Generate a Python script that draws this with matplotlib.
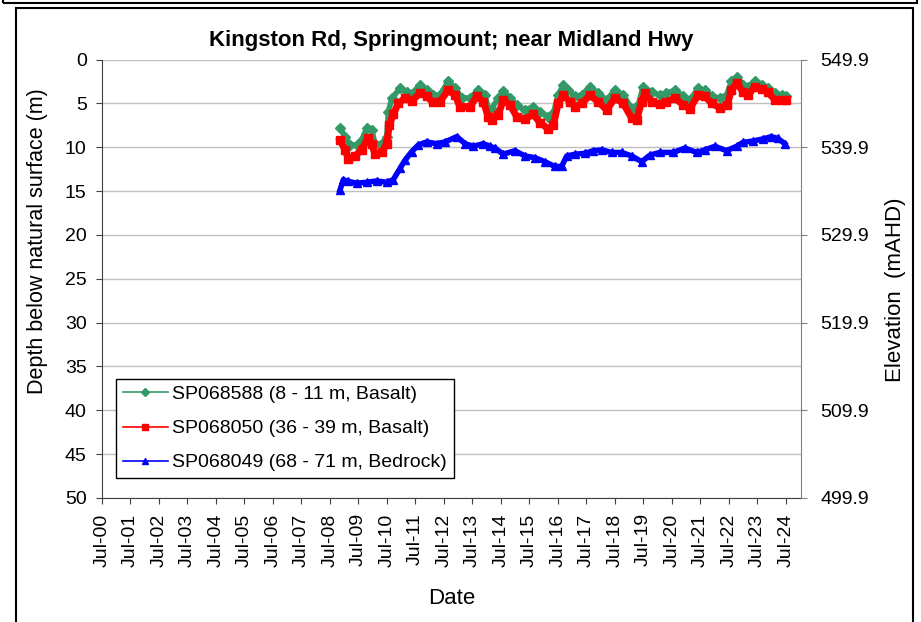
import numpy as np
import pandas as pd
import matplotlib
matplotlib.use("Agg")
import matplotlib.pyplot as plt
import matplotlib.dates as mdates
from matplotlib.patches import Rectangle
from matplotlib.lines import Line2D

plt.rcParams['font.family'] = ['Liberation Sans', 'DejaVu Sans']

# bore readings (decimal year, depth below surface in m)
yr_588 = [2008.85, 2009.03, 2009.20, 2009.44, 2009.61, 2009.79, 2009.96, 2010.08, 2010.31, 2010.49,
          2010.55, 2010.67, 2010.96, 2011.19, 2011.37, 2011.66, 2011.89, 2012.12, 2012.36, 2012.65,
          2012.89, 2013.12, 2013.41, 2013.70, 2013.94, 2014.05, 2014.17, 2014.41, 2014.58, 2014.82,
          2015.05, 2015.34, 2015.63, 2015.87, 2016.16, 2016.34, 2016.51, 2016.69, 2016.86, 2017.10,
          2017.33, 2017.62, 2017.91, 2018.21, 2018.50, 2018.79, 2019.09, 2019.32, 2019.49, 2019.79,
          2020.08, 2020.31, 2020.61, 2020.90, 2021.13, 2021.42, 2021.66, 2021.89, 2022.18, 2022.42,
          2022.59, 2022.77, 2023.00, 2023.18, 2023.41, 2023.65, 2023.88, 2024.11, 2024.35, 2024.52]
d_588 = [7.8, 8.8, 9.75, 9.75, 9.2, 7.8, 8.0, 9.6, 9.6, 8.8,
         5.95, 4.4, 3.3, 3.7, 3.9, 2.9, 3.5, 4.1, 4.05, 2.5,
         3.3, 4.35, 4.4, 3.5, 4.05, 5.6, 5.6, 4.4, 3.6, 4.4,
         5.2, 5.75, 5.4, 5.95, 6.5, 6.1, 4.05, 2.9, 3.5, 4.2,
         4.05, 3.1, 3.85, 4.6, 3.5, 4.05, 5.6, 5.2, 3.1, 3.7,
         4.05, 3.85, 3.5, 4.2, 4.6, 3.3, 3.5, 4.2, 4.4, 4.05,
         2.5, 2.0, 2.9, 3.1, 2.45, 2.9, 3.3, 3.85, 4.05, 4.2]

yr_050 = [2008.85, 2009.03, 2009.14, 2009.38, 2009.61, 2009.84, 2009.96, 2010.08, 2010.31, 2010.49,
          2010.58, 2010.72, 2010.90, 2011.13, 2011.37, 2011.66, 2011.89, 2012.12, 2012.36, 2012.65,
          2012.89, 2013.06, 2013.41, 2013.65, 2013.88, 2014.05, 2014.17, 2014.41, 2014.58, 2014.82,
          2015.05, 2015.34, 2015.63, 2015.87, 2016.16, 2016.34, 2016.51, 2016.69, 2016.92, 2017.10,
          2017.33, 2017.62, 2017.91, 2018.21, 2018.50, 2018.79, 2019.09, 2019.26, 2019.44, 2019.55,
          2019.79, 2020.08, 2020.31, 2020.61, 2020.90, 2021.13, 2021.42, 2021.66, 2021.89, 2022.18,
          2022.44, 2022.59, 2022.77, 2023.00, 2023.18, 2023.41, 2023.65, 2023.88, 2024.11, 2024.35,
          2024.52]
d_050 = [9.2, 10.3, 11.3, 11.0, 10.3, 8.9, 9.6, 10.8, 10.6, 9.6,
         7.5, 6.25, 5.0, 4.4, 4.7, 3.85, 4.2, 4.9, 4.8, 3.5,
         4.05, 5.4, 5.4, 4.2, 4.8, 6.5, 6.9, 6.3, 4.6, 5.2,
         6.5, 6.8, 6.25, 7.2, 7.9, 7.5, 5.0, 4.1, 4.8, 5.4,
         5.0, 4.1, 4.8, 5.75, 4.4, 5.0, 6.7, 6.9, 4.8, 3.85,
         4.8, 5.1, 4.8, 4.4, 5.2, 5.6, 4.05, 4.2, 5.0, 5.5,
         5.2, 3.5, 2.7, 3.7, 4.05, 3.1, 3.35, 3.75, 4.6, 4.6,
         4.6]

yr_049 = [2008.85, 2008.97, 2009.14, 2009.44, 2009.79, 2010.14, 2010.49, 2010.72, 2010.96, 2011.13,
          2011.37, 2011.60, 2011.89, 2012.24, 2012.54, 2012.95, 2013.24, 2013.53, 2013.88, 2014.11,
          2014.29, 2014.58, 2014.99, 2015.34, 2015.69, 2016.04, 2016.39, 2016.63, 2016.81, 2017.10,
          2017.45, 2017.74, 2018.03, 2018.38, 2018.74, 2019.09, 2019.44, 2019.73, 2020.08, 2020.55,
          2020.96, 2021.37, 2021.66, 2022.01, 2022.42, 2022.77, 2023.00, 2023.35, 2023.70, 2023.99,
          2024.22, 2024.46]
d_049 = [14.9, 13.7, 13.9, 14.1, 14.0, 13.85, 14.0, 13.7, 12.4, 11.5,
         10.5, 9.75, 9.4, 9.6, 9.4, 8.8, 9.6, 9.9, 9.6, 9.9,
         10.1, 10.8, 10.4, 11.0, 11.2, 11.65, 12.2, 12.2, 11.0, 10.8,
         10.7, 10.4, 10.3, 10.6, 10.6, 11.0, 11.65, 10.9, 10.6, 10.6,
         10.1, 10.6, 10.3, 9.9, 10.4, 9.9, 9.45, 9.3, 9.05, 8.8,
         9.0, 9.6]

labels = ["SP068588 (8 - 11 m, Basalt)", "SP068050 (36 - 39 m, Basalt)", "SP068049 (68 - 71 m, Bedrock)"]
colors = ["#339966", "#ff0000", "#0000ff"]
markers = ["D", "s", "^"]
surface_elev = 549.9


def to_dates(yrs):
    yrs = np.array(yrs)
    base = pd.to_datetime(np.floor(yrs).astype(int).astype(str) + "-01-01")
    return base + pd.to_timedelta((yrs - np.floor(yrs)) * 365.25, unit="D")


fig = plt.figure(figsize=(9.21, 6.22), dpi=100)
ax = fig.add_axes([102 / 921, 124 / 622, 699 / 921, 438.5 / 622])

series = [(yr_588, d_588, 5, 4), (yr_050, d_050, 6, 5), (yr_049, d_049, 5.5, 4)]
for i, (yr, d, ms, lw) in enumerate(series):
    ax.plot(to_dates(yr), d, color=colors[i], marker=markers[i], ms=ms, lw=lw, zorder=3 + i)

ax.set_ylim(50, 0)
ax.set_yticks(np.arange(0, 51, 5))
ax.set_xlim(pd.Timestamp("2000-07-01"), pd.Timestamp("2025-01-12"))
ax.xaxis.set_major_locator(mdates.MonthLocator(bymonth=7))
ax.xaxis.set_major_formatter(mdates.DateFormatter("%b-%y"))
ax.tick_params(axis="x", rotation=90, labelsize=14, direction="out", length=4, pad=7, color="#404040")
ax.tick_params(axis="y", labelsize=14, direction="out", length=4, pad=7, color="#404040")
ax.grid(axis="y", color="#c0c0c0", lw=1)
ax.set_axisbelow(True)
for s in ["top", "right"]:
    ax.spines[s].set_visible(False)
ax.spines["left"].set_color("#404040")
ax.spines["bottom"].set_color("#404040")

ax.set_ylabel("Depth below natural surface (m)", fontsize=15.5)
ax.yaxis.set_label_coords(-0.077, 0.586)
ax.set_xlabel("Date", fontsize=16)
ax.xaxis.set_label_coords(0.5, -0.205)
ax.set_title("Kingston Rd, Springmount; near Midland Hwy", fontsize=16, fontweight="bold", pad=10)

ax2 = ax.twinx()
ax2.set_ylim(surface_elev - 50, surface_elev)
ax2.set_yticks(np.arange(surface_elev - 50, surface_elev + 0.1, 10))
ax2.yaxis.set_major_formatter(matplotlib.ticker.FormatStrFormatter("%.1f"))
ax2.tick_params(axis="y", labelsize=14, direction="out", length=4, pad=10, color="#808080")
for s in ["top", "left", "bottom"]:
    ax2.spines[s].set_visible(False)
ax2.spines["right"].set_color("#808080")
ax2.set_ylabel("Elevation  (mAHD)", fontsize=16)
ax2.yaxis.set_label_coords(1.12, 0.474)

handles = [Line2D([], [], color=colors[i], marker=markers[i], ms=[4, 5, 5][i], lw=1.2) for i in range(3)]
leg = ax.legend(handles, labels, loc="lower left", bbox_to_anchor=(0.02, 0.045), borderaxespad=0,
                fontsize=14, fancybox=False, edgecolor="black", framealpha=1, handlelength=2.3,
                handletextpad=0.25, labelspacing=0.85, borderpad=0.35)
leg.get_frame().set_linewidth(1)

# outer frames
fig.patches.append(Rectangle((16 / 921, -0.02), 897 / 921, 1.02 - 8 / 622, transform=fig.transFigure,
                             fill=False, edgecolor="black", lw=1.5))
fig.patches.append(Rectangle((3 / 921, 1 - 2.5 / 622), 914 / 921, 0.05, transform=fig.transFigure,
                             fill=False, edgecolor="black", lw=1.5))

fig.savefig("out.png", dpi=100)
